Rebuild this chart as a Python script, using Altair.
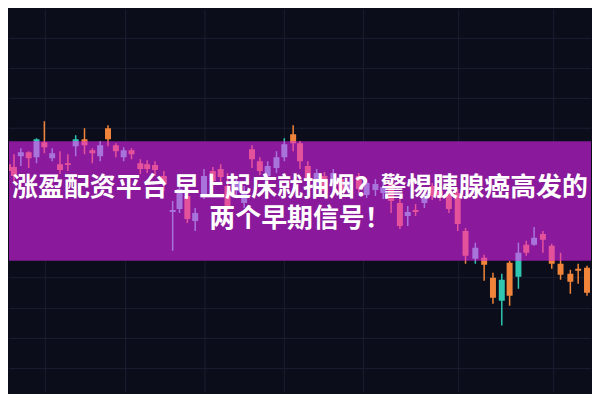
import altair as alt
import pandas as pd

# candle time positions and OHLC prices
t = [2, 8, 15, 23, 31, 39, 47, 55, 63, 71, 80, 88, 96, 104, 112, 120, 128, 137, 144, 152,
     161, 170, 177, 185, 193, 202, 211, 219, 226, 235, 243, 251, 259, 267, 276, 284, 293, 300,
     308, 317, 325, 334, 342, 351, 360, 368, 377, 385, 393, 402, 410, 418, 427, 435, 443, 452,
     461, 469, 479, 488, 497, 506, 514, 523, 531, 539, 548, 557, 566, 576, 584, 593]
open_ = [237, 234, 245, 249, 244, 259, 243, 237, 238, 255, 262, 251, 245, 273, 256, 244, 251, 238, 237, 236,
         225, 189, 192, 205, 180, 205, 230, 232, 215, 210, 198, 252, 240, 225, 233, 244, 267, 258,
         235, 218, 225, 215, 222, 210, 225, 206, 211, 208, 217, 198, 185, 191, 198, 215, 210, 210,
         208, 170, 142, 143, 123, 100, 138, 124, 156, 156, 167, 155, 137, 127, 132, 133]
close = [230, 225, 249, 243, 262, 254, 248, 231, 236, 262, 256, 248, 256, 262, 250, 251, 247, 232, 232, 231,
         217, 191, 212, 182, 188, 225, 220, 224, 195, 220, 210, 242, 230, 235, 244, 257, 258, 240,
         220, 228, 210, 228, 208, 220, 212, 218, 217, 214, 200, 175, 189, 189, 207, 205, 203, 192,
         177, 145, 153, 136, 103, 121, 105, 148, 148, 163, 161, 137, 126, 119, 130, 108]
high = [242, 247, 253, 250, 263, 280, 253, 250, 247, 266, 273, 253, 260, 276, 258, 254, 253, 242, 241, 240,
        230, 200, 220, 212, 193, 232, 234, 237, 228, 224, 215, 256, 244, 240, 250, 263, 276, 260,
        240, 232, 229, 232, 226, 224, 228, 222, 222, 220, 220, 203, 195, 197, 210, 218, 215, 213,
        212, 173, 158, 146, 128, 127, 140, 158, 160, 174, 170, 157, 148, 131, 137, 135]
low = [228, 220, 235, 233, 238, 248, 240, 227, 230, 245, 247, 238, 240, 255, 244, 240, 242, 227, 228, 225,
       210, 150, 188, 178, 170, 202, 216, 218, 190, 206, 193, 233, 226, 222, 228, 240, 250, 232,
       215, 214, 206, 210, 204, 206, 208, 203, 205, 202, 188, 172, 175, 185, 193, 201, 200, 188,
       170, 137, 137, 120, 97, 75, 95, 112, 145, 155, 148, 132, 121, 107, 117, 105]

band_prices = [140, 260]
grid_x = [40, 122, 203, 284, 365, 462, 559]
grid_y = [363, 333, 303, 273, 123, 92, 62, 32]

title_lines = ["涨盈配资平台 早上起床就抽烟？警惕胰腺癌高发的", "两个早期信号！"]

W, H = 584, 384

df = pd.DataFrame({"t": t, "open": open_, "close": close, "high": high, "low": low})

xs = alt.Scale(domain=[8, 8 + W], nice=False, zero=False)
ys = alt.Scale(domain=[400 - 8 - H, 392], nice=False, zero=False)

blo, bhi = band_prices


def candles(up_col, down_col, clip_band=False):
    base = alt.Chart(df).transform_calculate(
        col=f"datum.close >= datum.open ? '{up_col}' : '{down_col}'")
    if clip_band:
        base = base.transform_calculate(
            high=f"clamp(datum.high,{blo},{bhi})",
            low=f"clamp(datum.low,{blo},{bhi})",
            open=f"clamp(datum.open,{blo},{bhi})",
            close=f"clamp(datum.close,{blo},{bhi})",
        )
    col = alt.Color("col:N", scale=None)
    wick = base.mark_rule(strokeWidth=1.5, clip=True).encode(
        x=alt.X("t:Q", scale=xs, axis=None),
        y=alt.Y("low:Q", scale=ys, axis=None),
        y2="high:Q",
        color=col,
    )
    body = base.mark_bar(size=6, clip=True).encode(
        x=alt.X("t:Q", scale=xs, axis=None),
        y=alt.Y("open:Q", scale=ys, axis=None),
        y2="close:Q",
        color=col,
    )
    return wick + body


gx = alt.Chart(pd.DataFrame({"gx": grid_x})).mark_rule(color="#1b1e31", strokeWidth=1).encode(
    x=alt.X("gx:Q", scale=xs, axis=None))
gy = alt.Chart(pd.DataFrame({"gy": grid_y})).mark_rule(color="#1b1e31", strokeWidth=1).encode(
    y=alt.Y("gy:Q", scale=ys, axis=None))

band = alt.Chart(pd.DataFrame({"lo": [blo], "hi": [bhi]})).mark_rect(color="#8a1a9b").encode(
    y=alt.Y("lo:Q", scale=ys, axis=None), y2="hi:Q", x=alt.value(0), x2=alt.value(W))

title_txt = alt.Chart(pd.DataFrame({"s": ["\n".join(title_lines)]})).mark_text(
    font="Noto Sans CJK SC", fontWeight="bold", fontSize=26, color="white",
    align="center", baseline="middle", lineBreak="\n", lineHeight=31,
).encode(x=alt.datum(300, scale=xs), y=alt.datum(213, scale=ys), text="s:N")

chart = alt.layer(
    gx, gy,
    candles("#2fc6b2", "#f0843a"),
    band,
    candles("#a874dc", "#e4529c", clip_band=True),
    title_txt,
).properties(width=W, height=H, padding=0, background="#0b0d1a").configure_view(stroke=None)

chart.save("out.html", embed_options={"renderer": "svg", "actions": False})
